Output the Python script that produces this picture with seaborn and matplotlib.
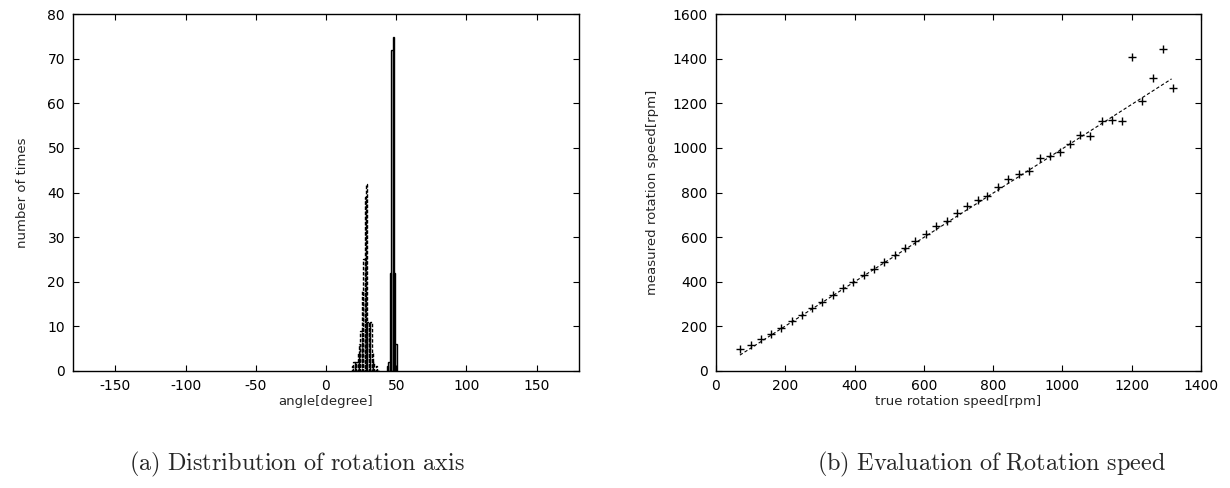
import numpy as np
import pandas as pd
import matplotlib
matplotlib.use("Agg")
import matplotlib.pyplot as plt
import seaborn as sns

# ---- data: histogram of rotation axis angle (bin centers in degree, counts) ----
angle_a = [19, 20, 21, 22, 23, 24, 25, 26, 27, 28, 29, 30, 31, 32, 33, 34, 35, 36, 37]
count_a = [1, 2, 2, 2, 4, 6, 9, 18, 25, 39, 42, 11, 11, 11, 4, 2, 0, 1, 0]
angle_b = [44, 45, 46, 47, 48, 49, 50]
count_b = [1, 2, 22, 72, 75, 22, 6]

# ---- data: rotation speed evaluation ----
true_speed = [69, 100, 130, 158, 188, 218, 247, 278, 307, 337, 368, 396, 427, 455,
              484, 516, 546, 575, 605, 635, 666, 695, 725, 755, 783, 815, 842, 874,
              904, 935, 963, 992, 1022, 1051, 1080, 1113, 1143, 1172, 1200, 1230,
              1260, 1289, 1318]
measured_speed = [96, 115, 141, 165, 193, 222, 250, 283, 310, 340, 370, 400, 430, 457,
                  490, 519, 549, 584, 614, 650, 673, 707, 741, 766, 783, 825, 862, 881,
                  896, 955, 965, 983, 1019, 1060, 1053, 1121, 1125, 1119, 1407, 1211,
                  1315, 1443, 1269]
fit_x = [69, 1315]
fit_y = [70, 1310]

x_ticks_a = [-150, -100, -50, 0, 50, 100, 150]
y_ticks_a = [0, 10, 20, 30, 40, 50, 60, 70, 80]
x_ticks_b = [0, 200, 400, 600, 800, 1000, 1200, 1400]
y_ticks_b = [0, 200, 400, 600, 800, 1000, 1200, 1400, 1600]

sns.set_style("ticks")
plt.rcParams["font.family"] = ["DejaVu Sans"]
plt.rcParams["mathtext.fontset"] = "cm"
plt.rcParams["axes.unicode_minus"] = False

fig = plt.figure(figsize=(12.3, 4.88), dpi=100)
W, H = 1230, 488
axL = fig.add_axes([73.3 / W, 1 - 370.7 / H, (578.7 - 73.3) / W, 356.4 / H])
axR = fig.add_axes([716 / W, 1 - 370.7 / H, 485 / W, 356.4 / H])

dfa = pd.DataFrame({"angle": angle_a, "count": count_a})
dfb = pd.DataFrame({"angle": angle_b, "count": count_b})

sns.histplot(data=dfa, x="angle", weights="count", binwidth=1,
             binrange=(min(angle_a) - 0.5, max(angle_a) + 0.5),
             element="bars", fill=False, color="black", linewidth=1.0,
             linestyle=(0, (2.5, 1.2)), ax=axL)
sns.histplot(data=dfb, x="angle", weights="count", binwidth=1,
             binrange=(min(angle_b) - 0.5, max(angle_b) + 0.5),
             element="bars", fill=False, color="black", linewidth=1.0, ax=axL)

axL.set_xlim(-180, 180)
axL.set_ylim(0, 80)
axL.set_xticks(x_ticks_a)
axL.set_yticks(y_ticks_a)
axL.set_xlabel("angle[degree]", fontsize=9.5, labelpad=1.5)
axL.set_ylabel("number of times", fontsize=9.5, labelpad=13)

dfs = pd.DataFrame({"true": true_speed, "measured": measured_speed})
sns.lineplot(x=fit_x, y=fit_y, ax=axR, color="black", linewidth=0.8,
             linestyle=(0, (3, 2)))
sns.scatterplot(data=dfs, x="true", y="measured", marker="+", s=30,
                color="black", linewidth=1.0, ax=axR)
axR.set_xlim(0, 1400)
axR.set_ylim(0, 1600)
axR.set_xticks(x_ticks_b)
axR.set_yticks(y_ticks_b)
axR.set_xlabel("true rotation speed[rpm]", fontsize=9.5, labelpad=1.5)
axR.set_ylabel("measured rotation speed[rpm]", fontsize=9.5, labelpad=10)

for ax in (axL, axR):
    for s in ax.spines.values():
        s.set_visible(True)
        s.set_color("black")
        s.set_linewidth(1.0)
    ax.tick_params(direction="in", length=4.3, width=0.8, top=True, right=True,
                   labelsize=10, pad=6, colors="black")
    ax.grid(False)

fig.text(297 / W, 1 - 464 / H, r"$\mathrm{(a)\ Distribution\ of\ rotation\ axis}$",
         ha="center", va="center", fontsize=17.5)
fig.text(991 / W, 1 - 464 / H, r"$\mathrm{(b)\ Evaluation\ of\ Rotation\ speed}$",
         ha="center", va="center", fontsize=17.5)

fig.savefig("out.png", dpi=100)
